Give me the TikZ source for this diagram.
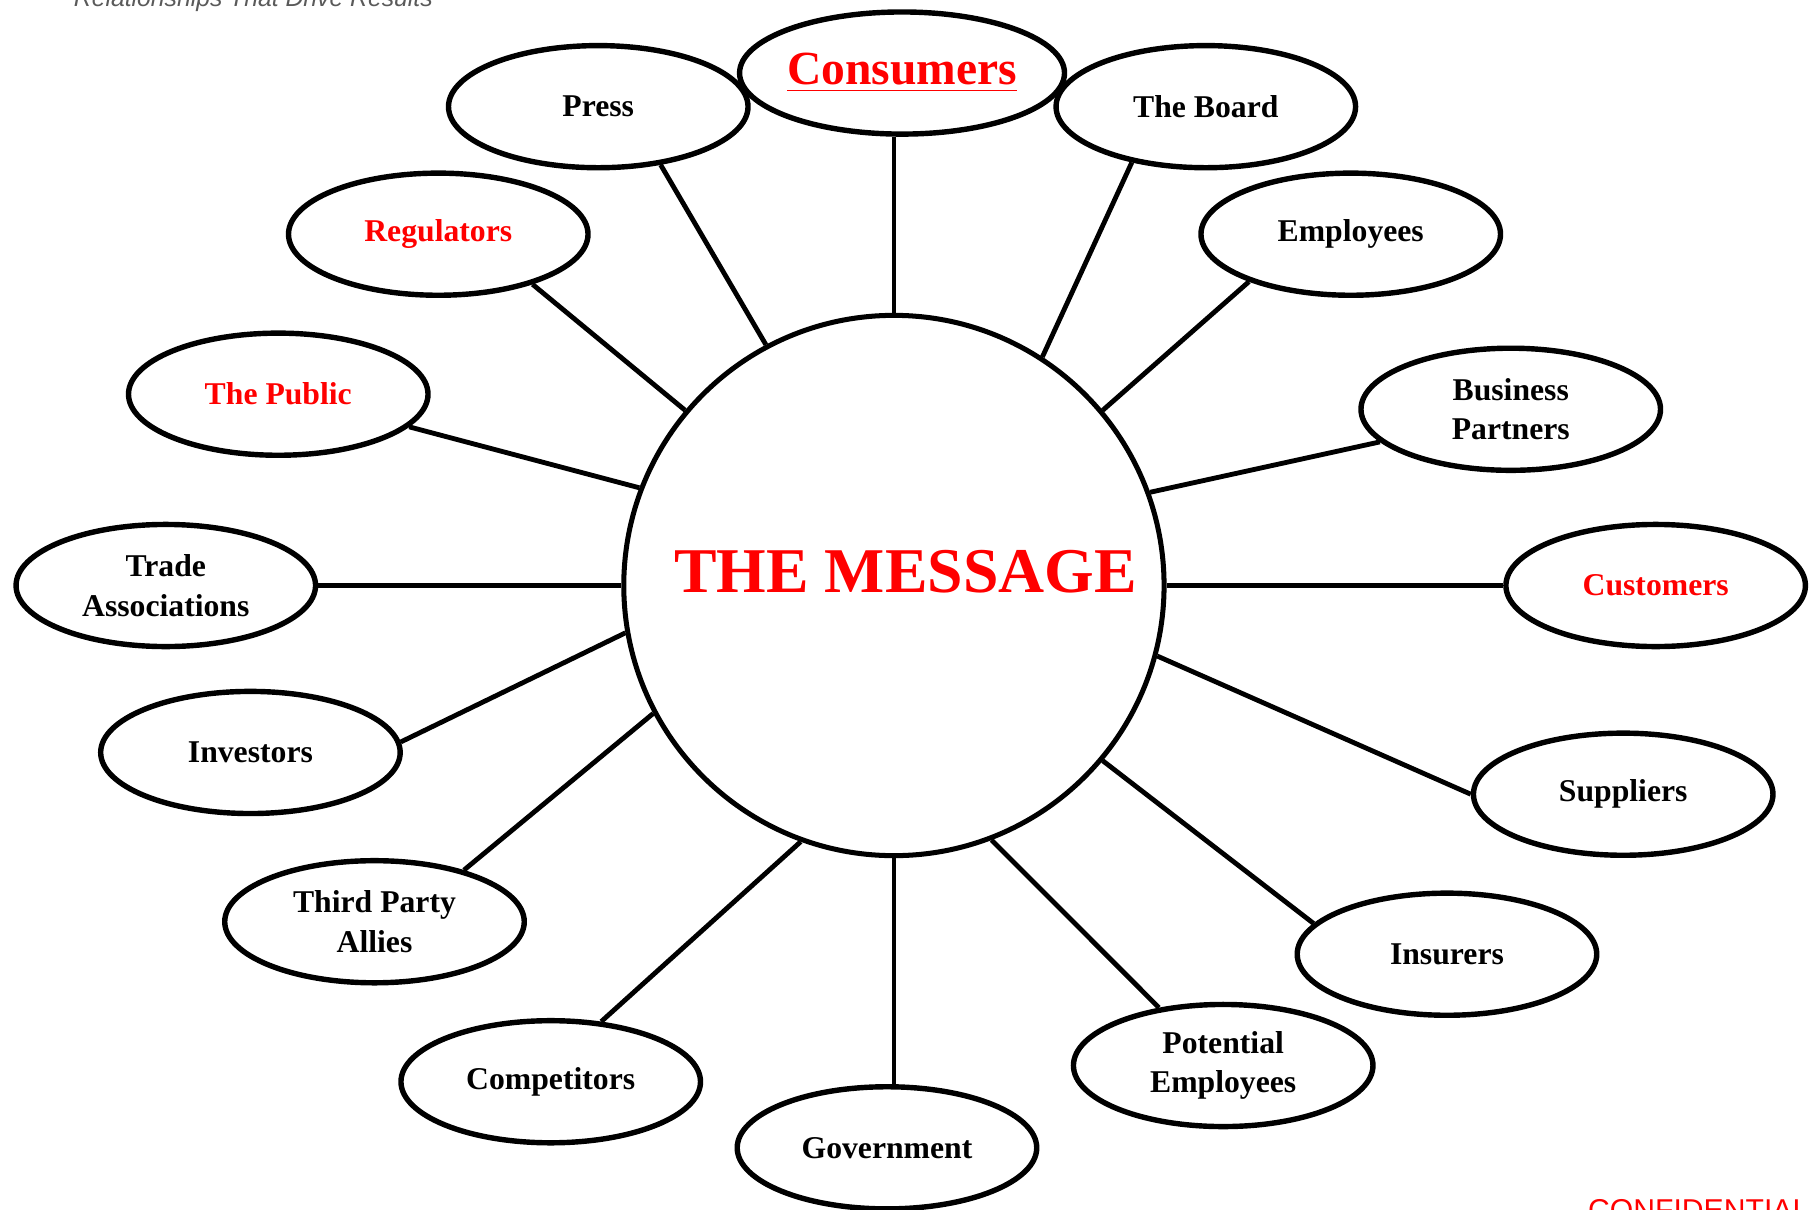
\documentclass[tikz,border=0pt]{standalone}
\usepackage{fontspec}
\setmainfont{Liberation Serif}
\newfontfamily\headfont{Liberation Sans}
\usetikzlibrary{shapes.geometric}

\definecolor{msgred}{RGB}{255,0,0}
\definecolor{headgray}{RGB}{90,90,90}

\tikzset{
  party/.style={draw, ellipse, line width=1.4pt, inner sep=0pt,
    minimum width=77.5pt, minimum height=31.6pt, align=center,
    font=\fontsize{8.2}{10.2}\selectfont\bfseries},
  hot/.style={party, text=msgred},
  hub/.style={draw, circle, line width=1.3pt, minimum size=139.8pt, inner sep=0pt},
  link/.style={line width=1.25pt}
}

\begin{document}
\begin{tikzpicture}[x=0.3pt, y=-0.3pt]
\useasboundingbox (0,0) rectangle (1568,1043);

% header and footer
\node[anchor=base west, font=\headfont\itshape\fontsize{6.4}{7}\selectfont, text=headgray] (title) at (52,6) {Relationships That Drive Results};
\node[anchor=base west, font=\headfont\fontsize{7.8}{8}\selectfont, text=msgred] (conf) at (1358,1053) {CONFIDENTIAL};

% the hub
\node[hub] (msg) at (771,505) {};
\node[font=\fontsize{16.5}{18}\selectfont\bfseries, text=msgred] (msgtext) at (781,493) {THE MESSAGE};

% stakeholders
\node[party, text=msgred, font=\fontsize{12.3}{14}\selectfont\bfseries] (consumers) at (778,63) {\underline{Consumers}};
\node[party] (press) at (516,92) {Press};
\node[party] (board) at (1040,92) {The Board};
\node[hot] (regulators) at (378,202) {Regulators};
\node[party] (employees) at (1165,202) {Employees};
\node[hot] (public) at (240,340) {The Public};
\node[party] (partners) at (1303,353) {Business\\Partners};
\node[party] (trade) at (143,505) {Trade\\Associations};
\node[hot] (customers) at (1428,505) {Customers};
\node[party] (investors) at (216,649) {Investors};
\node[party] (suppliers) at (1400,685) {Suppliers};
\node[party] (allies) at (323,795) {Third Party\\Allies};
\node[party] (insurers) at (1248,823) {Insurers};
\node[party] (competitors) at (475,933) {Competitors};
\node[party] (prospects) at (1055,919) {Potential\\Employees};
\node[party] (government) at (765,990) {Government};

% spokes
\foreach \a/\b in {press.-43/msg.118, board.-143/msg.57, regulators.-28/msg.140,
                   employees.-155/msg.40, public.-14/msg.159, partners.-166/msg.20,
                   trade.0/msg.180, customers.180/msg.0, investors.4/msg.190,
                   suppliers.180/msg.-15, allies.30/msg.208, insurers.167/msg.-40,
                   competitors.50/msg.250, prospects.138/msg.291}
{
    \draw[link] (\a) -- (\b);
}
\draw[link] (msg.north) -- (msg.north |- consumers.south);
\draw[link] (msg.south) -- (msg.south |- government.north);

\end{tikzpicture}
\end{document}
